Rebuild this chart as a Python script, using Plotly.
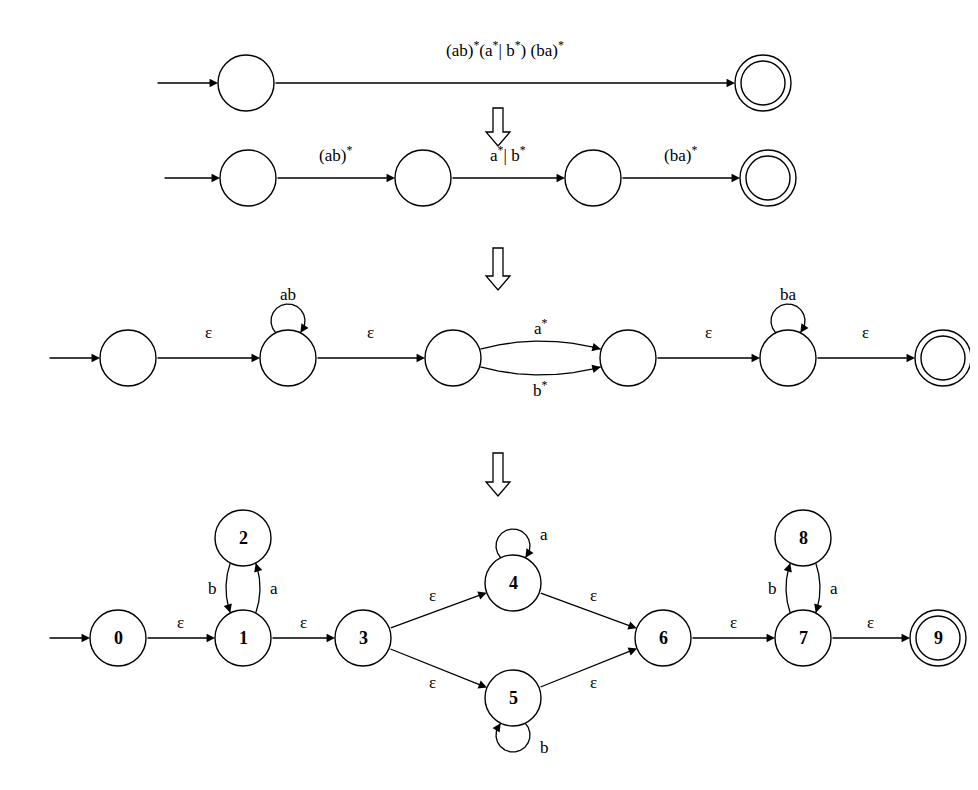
import numpy as np
import plotly.graph_objects as go

R = 28
FONT = "Liberation Serif"

# row 1 : single edge
row1_x = [238, 755]
row1_y = 75
row1_label = "(ab)<sup>*</sup>(a<sup>*</sup>| b<sup>*</sup>) (ba)<sup>*</sup>"

# row 2 : concatenation
row2_x = [240, 415, 585, 760]
row2_y = 170
row2_labels = ["(ab)<sup>*</sup>", "a<sup>*</sup>| b<sup>*</sup>", "(ba)<sup>*</sup>"]

# row 3 : closures
row3_x = [120, 280, 445, 620, 780, 935]
row3_y = 350
row3_labels = ["ε", "ε", None, "ε", "ε"]
row3_loops = {1: "ab", 4: "ba"}
row3_alt = ["a<sup>*</sup>", "b<sup>*</sup>"]

# row 4 : final NFA
node_names = ["0", "1", "2", "3", "4", "5", "6", "7", "8", "9"]
node_x = [110, 235, 235, 355, 505, 505, 655, 795, 795, 930]
node_y = [630, 630, 530, 630, 575, 690, 630, 630, 530, 630]
straight_edges = [(0, 1, "ε", 1), (1, 3, "ε", 1), (3, 4, "ε", 1), (3, 5, "ε", -1),
                  (4, 6, "ε", 1), (5, 6, "ε", -1), (6, 7, "ε", 1), (7, 9, "ε", 1)]
curved_edges = [(2, 1, "b", -1), (1, 2, "a", -1), (7, 8, "b", 1), (8, 7, "a", 1)]
loops4 = [(4, "a", -1), (5, "b", 1)]

down_arrows_y = [(100, 138), (240, 282), (445, 488)]
down_arrow_x = 490

fig = go.Figure()
shapes, annos = [], []


def circle(cx, cy, r=R):
    shapes.append(dict(type="circle", x0=cx - r, x1=cx + r, y0=cy - r, y1=cy + r,
                       line=dict(color="black", width=1.4)))


def final(cx, cy):
    circle(cx, cy)
    circle(cx, cy, R - 6)


def text(x, y, t, size=17):
    annos.append(dict(x=x, y=y, text=t, showarrow=False, font=dict(family=FONT, size=size, color="black")))


def arrow(x0, y0, x1, y1):
    annos.append(dict(x=x1, y=y1, ax=x0, ay=y0, axref="x", ayref="y", xref="x", yref="y", text="",
                      showarrow=True, arrowhead=2, arrowsize=1.3, arrowwidth=1.3, arrowcolor="black", standoff=0))


def line(xs, ys):
    fig.add_trace(go.Scatter(x=xs, y=ys, mode="lines", line=dict(color="black", width=1.3),
                             hoverinfo="skip", showlegend=False))


def edge(p0, p1, label=None, side=1, r0=R, r1=R):
    p0, p1 = np.array(p0, float), np.array(p1, float)
    d = (p1 - p0) / np.linalg.norm(p1 - p0)
    a, b = p0 + d * r0, p1 - d * r1
    arrow(a[0], a[1], b[0], b[1])
    if label:
        n = np.array([d[1], -d[0]]) * side
        if n[1] > 0 and side == 1:
            n = -n
        m = (a + b) / 2 + n * 16
        text(m[0], m[1], label)


def curve(p0, p1, bend, label, r=R):
    p0, p1 = np.array(p0, float), np.array(p1, float)
    d = (p1 - p0) / np.linalg.norm(p1 - p0)
    n = np.array([d[1], -d[0]])
    c = (p0 + p1) / 2 + n * bend
    t = np.linspace(0, 1, 200)
    pts = np.outer((1 - t) ** 2, p0) + np.outer(2 * (1 - t) * t, c) + np.outer(t ** 2, p1)
    dist0 = np.linalg.norm(pts - p0, axis=1)
    dist1 = np.linalg.norm(pts - p1, axis=1)
    pts = pts[(dist0 >= r) & (dist1 >= r)]
    line(pts[:, 0], pts[:, 1])
    arrow(pts[-12, 0], pts[-12, 1], pts[-1, 0], pts[-1, 1])
    m = (p0 + p1) / 2 + n * (bend / 2 + 14 * np.sign(bend))
    text(m[0], m[1], label)


def loop(cx, cy, label, side=-1, rl=17):
    lc = np.array([cx, cy + side * (R + rl - 8)])
    th = np.linspace(0, 2 * np.pi, 300)
    pts = np.c_[lc[0] + rl * np.cos(th), lc[1] + rl * np.sin(th)]
    pts = pts[np.hypot(pts[:, 0] - cx, pts[:, 1] - cy) >= R]
    # order so the arc is continuous
    k = np.argmax(np.abs(np.diff(pts[:, 0])) + np.abs(np.diff(pts[:, 1])) > 5) + 1 if len(pts) > 1 else 0
    pts = np.r_[pts[k:], pts[:k]]
    line(pts[:, 0], pts[:, 1])
    arrow(pts[-18, 0], pts[-18, 1], pts[-1, 0], pts[-1, 1])
    if label in ("a", "b"):
        text(lc[0] + rl + 14, lc[1] + side * 12, label)
    else:
        text(lc[0], lc[1] + side * (rl + 10), label)


# row 1
circle(row1_x[0], row1_y)
final(row1_x[1], row1_y)
arrow(148, row1_y, row1_x[0] - R, row1_y)
edge((row1_x[0], row1_y), (row1_x[1], row1_y))
text((row1_x[0] + row1_x[1]) / 2, row1_y - 34, row1_label)

# row 2
for x in row2_x[:-1]:
    circle(x, row2_y)
final(row2_x[-1], row2_y)
arrow(155, row2_y, row2_x[0] - R, row2_y)
for i, lab in enumerate(row2_labels):
    edge((row2_x[i], row2_y), (row2_x[i + 1], row2_y))
    text((row2_x[i] + row2_x[i + 1]) / 2, row2_y - 24, lab)

# row 3
for x in row3_x[:-1]:
    circle(x, row3_y)
final(row3_x[-1], row3_y)
arrow(40, row3_y, row3_x[0] - R, row3_y)
for i, lab in enumerate(row3_labels):
    if lab:
        edge((row3_x[i], row3_y), (row3_x[i + 1], row3_y))
        text((row3_x[i] + row3_x[i + 1]) / 2, row3_y - 26, lab)
curve((row3_x[2], row3_y), (row3_x[3], row3_y), 34, row3_alt[0])
curve((row3_x[2], row3_y), (row3_x[3], row3_y), -34, row3_alt[1])
for i, lab in row3_loops.items():
    loop(row3_x[i], row3_y, lab)

# row 4
for i, name in enumerate(node_names):
    if name == "9":
        final(node_x[i], node_y[i])
    else:
        circle(node_x[i], node_y[i])
    text(node_x[i], node_y[i], "<b>%s</b>" % name, 18)
arrow(40, node_y[0], node_x[0] - R, node_y[0])
for a, b, lab, side in straight_edges:
    edge((node_x[a], node_y[a]), (node_x[b], node_y[b]), lab, side)
for a, b, lab, s in curved_edges:
    curve((node_x[a], node_y[a]), (node_x[b], node_y[b]), 34 * s, lab)
for i, lab, side in loops4:
    loop(node_x[i], node_y[i], lab, side)

# hollow down arrows
for y0, y1 in down_arrows_y:
    x = down_arrow_x
    yh = y1 - 14
    shapes.append(dict(type="path", path=f"M {x-5} {y0} L {x+5} {y0} L {x+5} {yh} L {x+12} {yh} L {x} {y1} "
                                         f"L {x-12} {yh} L {x-5} {yh} Z",
                       line=dict(color="black", width=1.3), fillcolor="white"))

fig.update_layout(width=978, height=790, margin=dict(l=0, r=0, t=0, b=0),
                  plot_bgcolor="white", paper_bgcolor="white", shapes=shapes, annotations=annos,
                  xaxis=dict(range=[0, 978], visible=False, fixedrange=True),
                  yaxis=dict(range=[790, 0], visible=False, fixedrange=True))
fig.write_html("out.html")
